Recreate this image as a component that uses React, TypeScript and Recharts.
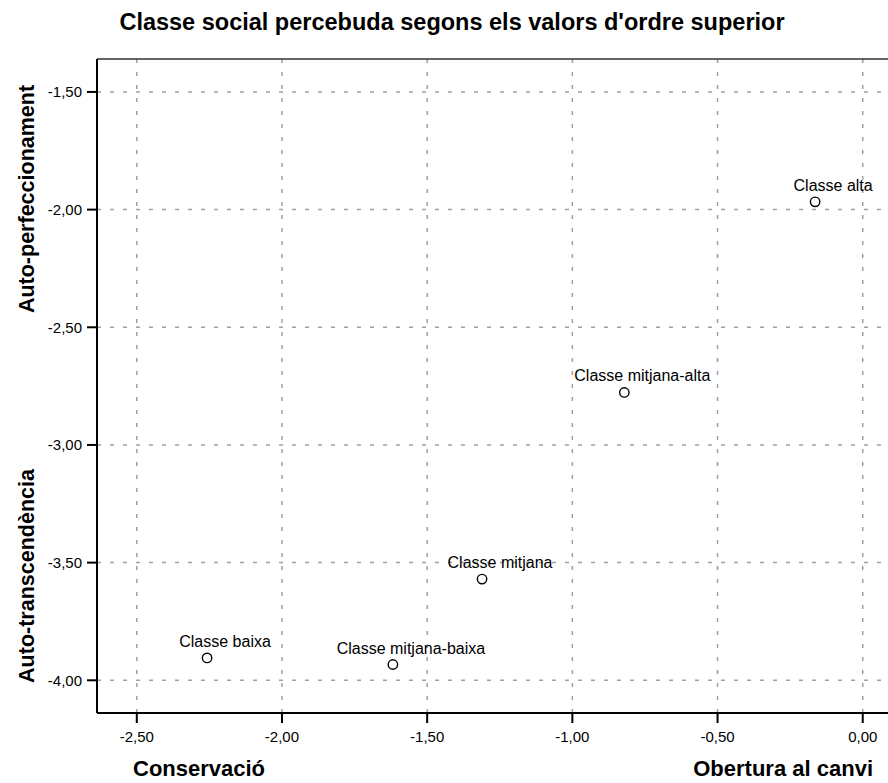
import React from "react";
import {
  ScatterChart,
  Scatter,
  XAxis,
  YAxis,
  CartesianGrid,
  ReferenceLine,
  Customized,
} from "recharts";

const names = ["Classe alta", "Classe mitjana-alta", "Classe mitjana", "Classe mitjana-baixa", "Classe baixa"];
const obertura = [-0.164, -0.821, -1.311, -1.618, -2.258];
const autoPerf = [-1.967, -2.777, -3.57, -3.933, -3.905];

const xTicks = [-2.5, -2.0, -1.5, -1.0, -0.5, 0.0];
const yTicks = [-1.5, -2.0, -2.5, -3.0, -3.5, -4.0];

const X_DOMAIN = [-2.637, 0.087];
const Y_DOMAIN = [-4.139, -1.36];

const data = names.map((name, i) => ({ name, x: obertura[i], y: autoPerf[i] }));

const FONT = "'Liberation Sans', Arial, sans-serif";
const fmt = (v: number) => v.toFixed(2).replace(".", ",");

function PointShape(props: any) {
  const { cx, cy, payload } = props;
  return (
    <g>
      <circle cx={cx} cy={cy} r={4.7} fill="#fff" stroke="#000" strokeWidth={1.4} />
      <text x={cx + 18} y={cy - 11} textAnchor="middle" fontSize={16} fontFamily={FONT} fill="#000">
        {payload.name}
      </text>
    </g>
  );
}

function Titles() {
  return (
    <g fontFamily={FONT} fontWeight="bold" fill="#000">
      <text x={452} y={30} textAnchor="middle" fontSize={23.5}>
        Classe social percebuda segons els valors d'ordre superior
      </text>
      <text x={34} y={199} textAnchor="middle" fontSize={21.5} transform="rotate(-90, 34, 199)">
        Auto-perfeccionament
      </text>
      <text x={34} y={576} textAnchor="middle" fontSize={21.5} transform="rotate(-90, 34, 576)">
        Auto-transcendència
      </text>
      <text x={133} y={776} textAnchor="start" fontSize={22}>
        Conservació
      </text>
      <text x={873} y={776} textAnchor="end" fontSize={22}>
        Obertura al canvi
      </text>
    </g>
  );
}

export default function App() {
  return (
    <div style={{ position: "absolute", left: 0, top: 0, background: "#fff" }}>
      <ScatterChart width={888} height={783} margin={{ top: 59, right: 0, bottom: 0, left: 0 }}>
        <CartesianGrid
          stroke="#a0a0a0"
          strokeWidth={1.5}
          strokeDasharray="4 9"
          horizontalValues={yTicks}
          verticalValues={xTicks}
        />
        <ReferenceLine y={Y_DOMAIN[1]} stroke="#333" strokeWidth={1.5} ifOverflow="visible" />
        <XAxis
          type="number"
          dataKey="x"
          domain={X_DOMAIN}
          ticks={xTicks}
          allowDataOverflow
          height={70}
          tickFormatter={fmt}
          tickSize={10}
          tickMargin={8}
          axisLine={{ stroke: "#000", strokeWidth: 2 }}
          tickLine={{ stroke: "#000", strokeWidth: 2 }}
          tick={{ fill: "#000", fontSize: 15, fontFamily: FONT }}
        />
        <YAxis
          type="number"
          dataKey="y"
          domain={Y_DOMAIN}
          ticks={yTicks}
          allowDataOverflow
          width={97}
          tickFormatter={fmt}
          tickSize={10}
          tickMargin={5}
          axisLine={{ stroke: "#000", strokeWidth: 2 }}
          tickLine={{ stroke: "#000", strokeWidth: 2 }}
          tick={{ fill: "#000", fontSize: 15, fontFamily: FONT }}
        />
        <Scatter data={data} shape={<PointShape />} isAnimationActive={false} />
        <Customized component={Titles} />
      </ScatterChart>
    </div>
  );
}
